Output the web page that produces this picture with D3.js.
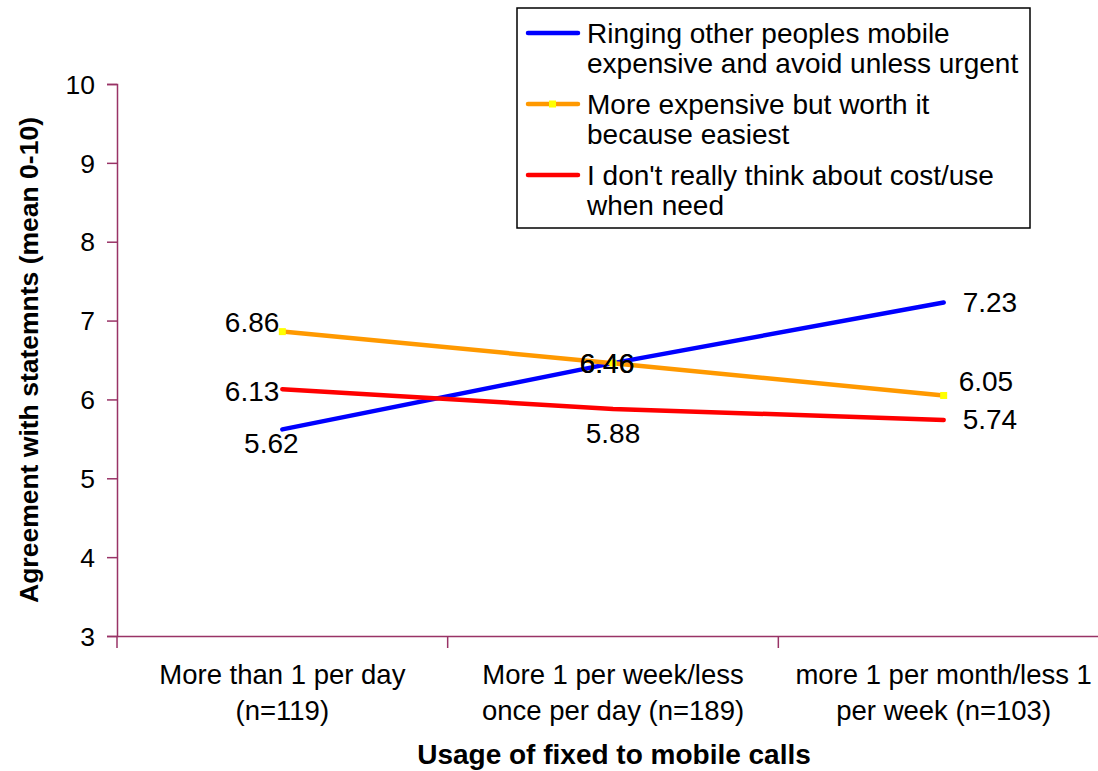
<!DOCTYPE html>
<html><head><meta charset="utf-8">
<script src="https://cdn.jsdelivr.net/npm/d3@7"></script>
<style>body{margin:0;background:#fff;}svg{display:block;font-family:"Liberation Sans",Arial,sans-serif;}</style>
</head><body><svg id="c" width="1098" height="771"></svg>
<script>
const categories = [["More than 1 per day","(n=119)"],["More 1 per week/less","once per day (n=189)"],["more 1 per month/less 1","per week (n=103)"]];
const seriesNames = [["Ringing other peoples mobile","expensive and avoid unless urgent"],["More expensive but worth it","because easiest"],["I don't really think about cost/use","when need"]];
const ringing = [5.62, 6.46, 7.23];
const worthIt = [6.86, 6.46, 6.05];
const dontThink = [6.13, 5.88, 5.74];
const yTicks = [3,4,5,6,7,8,9,10];
const colors = ["#0000FF","#FF9900","#FF0000"];

const svg = d3.select("#c");
const x = d3.scaleBand().domain([0,1,2]).range([117,1109]);
const y = d3.scaleLinear().domain([3,10]).range([636,84]);
const axisCol = "#993366";
const cx = i => x(i) + x.bandwidth()/2;
const FF = "Liberation Sans, Arial, sans-serif";

// y axis
const ya = svg.append("g").attr("transform","translate(117,0)")
  .call(d3.axisLeft(y).tickValues(yTicks).tickSize(10).tickPadding(12).tickFormat(d3.format("d")));
ya.select(".domain").attr("stroke",axisCol).attr("stroke-width",1.5);
ya.selectAll(".tick line").attr("stroke",axisCol).attr("stroke-width",1.5);
ya.selectAll(".tick text").attr("font-size",26.5).attr("fill","#000").attr("font-family",FF).attr("dy","0.35em");

// x axis
const xa = svg.append("g").attr("transform","translate(0,636)")
  .call(d3.axisBottom(x).tickSize(0).tickFormat(""));
xa.select(".domain").attr("stroke",axisCol).attr("stroke-width",1.5);
[0,1,2].forEach(i=>{
  svg.append("line").attr("x1",x(i)).attr("x2",x(i)).attr("y1",636).attr("y2",648).attr("stroke",axisCol).attr("stroke-width",1.5);
  categories[i].forEach((t,j)=>{
    svg.append("text").attr("x",cx(i)).attr("y",684+j*36).attr("text-anchor","middle").attr("font-size",27.5).text(t);
  });
});

// axis titles
svg.append("text").attr("x",614).attr("y",764).attr("text-anchor","middle").attr("font-size",28).attr("font-weight","bold").text("Usage of fixed to mobile calls");
svg.append("text").attr("transform","translate(38,360) rotate(-90)").attr("text-anchor","middle").attr("font-size",26.5).attr("font-weight","bold").text("Agreement with statemnts (mean 0-10)");

const all = [ringing, worthIt, dontThink];
const line = d3.line().x((d,i)=>cx(i)).y(d=>y(d));
all.forEach((s,k)=>{
  svg.append("path").datum(s).attr("d",line).attr("fill","none").attr("stroke",colors[k]).attr("stroke-width",4.5).attr("stroke-linecap","round");
});
// yellow markers on orange series
svg.selectAll(".mk").data(worthIt).enter().append("rect")
  .attr("x",(d,i)=>cx(i)-3.5).attr("y",d=>y(d)-3.5).attr("width",7).attr("height",7).attr("fill","#FFFF00");

// data labels: [dx, dy, anchor]
const lblPos = [
  [[-11,24,"middle"],[-6,10,"middle"],[19,10,"start"]],
  [[-3,0,"end"],[-6,10,"middle"],[15,-4,"start"]],
  [[-3,12,"end"],[0,34,"middle"],[19,9,"start"]]
];
all.forEach((s,k)=>{
  s.forEach((v,i)=>{
    const p = lblPos[k][i];
    svg.append("text").attr("x",cx(i)+p[0]).attr("y",y(v)+p[1]).attr("text-anchor",p[2]).attr("font-size",28).text(d3.format(".2f")(v));
  });
});

// legend
const lg = svg.append("g");
lg.append("rect").attr("x",517).attr("y",8).attr("width",513).attr("height",220).attr("fill","#fff").attr("stroke","#000").attr("stroke-width",1.5);
seriesNames.forEach((nm,k)=>{
  const yy = 33 + k*71;
  lg.append("line").attr("x1",528).attr("x2",578).attr("y1",yy).attr("y2",yy).attr("stroke",colors[k]).attr("stroke-width",4.5).attr("stroke-linecap","round");
  if(k===1) lg.append("rect").attr("x",549).attr("y",yy-3.5).attr("width",7).attr("height",7).attr("fill","#FFFF00");
  nm.forEach((t,j)=>{
    lg.append("text").attr("x",587).attr("y",yy+10+j*30).attr("font-size",28).text(t);
  });
});
</script></body></html>
